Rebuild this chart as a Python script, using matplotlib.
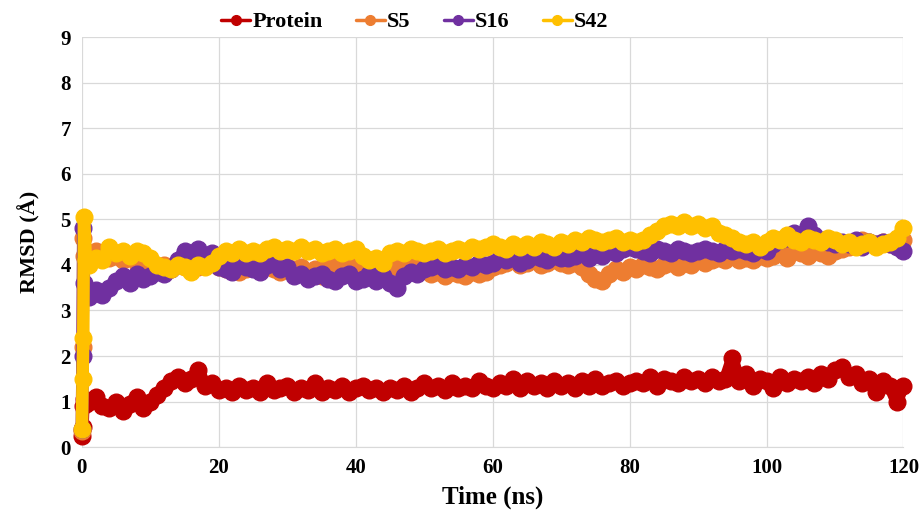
import numpy as np
import matplotlib.pyplot as plt

plt.rcParams['font.family'] = ['Liberation Serif', 'DejaVu Serif']
plt.rcParams['font.weight'] = 'bold'

# time axis: a few early frames, then one sample per ns
time_ns = [0, 0.1, 0.2, 0.3, 0.6] + list(range(1, 121))

protein = [0.25, 0.45, 0.9, 1.05, 0.95,
           1.0, 1.1, 0.9, 0.85, 1.0, 0.8, 0.95, 1.1, 0.85, 1.0,
           1.15, 1.3, 1.45, 1.55, 1.4, 1.5, 1.7, 1.35, 1.4, 1.25,
           1.3, 1.2, 1.35, 1.25, 1.3, 1.2, 1.4, 1.25, 1.3, 1.35,
           1.2, 1.3, 1.25, 1.4, 1.2, 1.3, 1.25, 1.35, 1.2, 1.3,
           1.35, 1.25, 1.3, 1.2, 1.3, 1.25, 1.35, 1.2, 1.3, 1.4,
           1.3, 1.35, 1.25, 1.4, 1.3, 1.35, 1.3, 1.45, 1.35, 1.3,
           1.4, 1.35, 1.5, 1.3, 1.45, 1.35, 1.4, 1.3, 1.45, 1.35,
           1.4, 1.3, 1.45, 1.35, 1.5, 1.35, 1.4, 1.45, 1.35, 1.4,
           1.45, 1.4, 1.55, 1.35, 1.5, 1.45, 1.4, 1.55, 1.45, 1.5,
           1.4, 1.55, 1.45, 1.5, 1.95, 1.45, 1.6, 1.35, 1.5, 1.45,
           1.3, 1.55, 1.4, 1.5, 1.45, 1.55, 1.4, 1.6, 1.5, 1.7,
           1.75, 1.55, 1.6, 1.4, 1.5, 1.2, 1.45, 1.35, 1.0, 1.35]

s5 = [0.35, 2.2, 4.6, 4.2, 4.15,
      4.2, 4.3, 4.25, 4.15, 4.2, 4.1, 4.15, 4.05, 4.1, 4.0,
      3.95, 4.0, 3.9, 4.0, 3.95, 3.9, 3.95, 4.0, 4.05, 3.95,
      3.9, 3.95, 3.85, 3.9, 4.0, 3.9, 3.95, 3.9, 3.85, 3.95,
      3.9, 3.95, 3.8, 3.9, 3.75, 3.95, 4.0, 4.05, 3.95, 4.05,
      3.95, 4.05, 3.95, 3.9, 4.0, 3.95, 4.05, 4.1, 4.0, 3.95,
      3.8, 3.85, 3.75, 3.85, 3.8, 3.75, 3.85, 3.8, 3.85, 3.95,
      4.0, 4.05, 4.1, 4.0, 4.05, 4.1, 4.0, 4.05, 4.1, 4.05,
      4.0, 4.05, 3.95, 3.8, 3.7, 3.65, 3.8, 3.9, 3.85, 3.95,
      3.9, 4.0, 3.95, 3.9, 4.0, 4.05, 3.95, 4.05, 4.0, 4.1,
      4.05, 4.1, 4.15, 4.1, 4.2, 4.1, 4.15, 4.1, 4.2, 4.15,
      4.2, 4.25, 4.15, 4.3, 4.25, 4.2, 4.3, 4.25, 4.2, 4.3,
      4.35, 4.4, 4.5, 4.55, 4.5, 4.45, 4.5, 4.45, 4.5, 4.55]

s16 = [0.4, 2.0, 4.8, 3.6, 3.35,
       3.3, 3.45, 3.35, 3.5, 3.65, 3.75, 3.6, 3.8, 3.7, 3.75,
       3.85, 3.8, 3.9, 4.1, 4.3, 4.2, 4.35, 4.15, 4.25, 3.95,
       3.9, 3.85, 4.0, 3.95, 3.9, 3.85, 4.0, 4.05, 3.9, 3.95,
       3.75, 3.8, 3.7, 3.75, 3.8, 3.7, 3.65, 3.75, 3.8, 3.65,
       3.7, 3.8, 3.65, 3.75, 3.6, 3.5, 3.75, 3.85, 3.8, 3.9,
       3.95, 4.0, 3.9, 3.95, 3.9, 4.0, 3.95, 4.05, 4.0, 4.05,
       4.15, 4.1, 4.15, 4.05, 4.1, 4.2, 4.15, 4.1, 4.2, 4.15,
       4.15, 4.2, 4.25, 4.15, 4.25, 4.2, 4.3, 4.25, 4.35, 4.4,
       4.35, 4.3, 4.25, 4.35, 4.3, 4.25, 4.35, 4.3, 4.25, 4.3,
       4.35, 4.3, 4.25, 4.35, 4.3, 4.35, 4.3, 4.25, 4.35, 4.3,
       4.45, 4.55, 4.6, 4.7, 4.6, 4.85, 4.65, 4.55, 4.5, 4.45,
       4.5, 4.45, 4.55, 4.4, 4.5, 4.45, 4.5, 4.45, 4.4, 4.3]

s42 = [0.4, 1.5, 2.4, 5.05, 4.1,
       4.0, 4.15, 4.1, 4.4, 4.25, 4.3, 4.2, 4.3, 4.25, 4.15,
       4.0, 3.95, 3.9, 4.0, 3.95, 3.85, 4.0, 3.95, 4.05, 4.2,
       4.3, 4.25, 4.35, 4.25, 4.3, 4.25, 4.35, 4.4, 4.3, 4.35,
       4.3, 4.4, 4.3, 4.35, 4.25, 4.3, 4.35, 4.25, 4.3, 4.35,
       4.2, 4.1, 4.15, 4.05, 4.25, 4.3, 4.25, 4.35, 4.3, 4.25,
       4.3, 4.35, 4.25, 4.3, 4.35, 4.3, 4.4, 4.35, 4.4, 4.45,
       4.4, 4.35, 4.45, 4.4, 4.45, 4.4, 4.5, 4.45, 4.4, 4.5,
       4.45, 4.55, 4.5, 4.6, 4.55, 4.5, 4.55, 4.6, 4.5, 4.55,
       4.5, 4.55, 4.65, 4.75, 4.85, 4.9, 4.85, 4.95, 4.85, 4.9,
       4.8, 4.85, 4.7, 4.65, 4.6, 4.5, 4.45, 4.5, 4.4, 4.5,
       4.6, 4.55, 4.65, 4.55, 4.5, 4.6, 4.55, 4.5, 4.6, 4.55,
       4.45, 4.5, 4.4, 4.45, 4.5, 4.4, 4.45, 4.5, 4.6, 4.8]

series = [("Protein", protein, "#C00000"),
          ("S5", s5, "#ED7D31"),
          ("S16", s16, "#7030A0"),
          ("S42", s42, "#FFC000")]

fig, ax = plt.subplots(figsize=(9.2, 5.14), dpi=100)
fig.subplots_adjust(left=0.089, right=0.982, bottom=0.13, top=0.928)

for name, vals, col in series:
    ax.plot(time_ns, vals, 'o-', color=col, lw=9, markersize=12,
            solid_joinstyle='round', solid_capstyle='round',
            label=name, clip_on=False)

ax.set_xlim(0, 120)
ax.set_ylim(0, 9)
ax.set_xticks(np.arange(0, 121, 20))
ax.set_yticks(np.arange(0, 10, 1))
ax.grid(True, color='#D9D9D9', lw=0.9)
ax.set_axisbelow(True)
for side in ['top', 'right', 'left']:
    ax.spines[side].set_visible(False)
ax.spines['bottom'].set_color('#D9D9D9')
ax.tick_params(axis='both', length=0, labelsize=15, pad=8)
for lab in ax.get_xticklabels() + ax.get_yticklabels():
    lab.set_fontweight('bold')

ax.set_xlabel('Time (ns)', fontsize=18, fontweight='bold', labelpad=5)
ax.set_ylabel('RMSD (Å)', fontsize=16, fontweight='bold', labelpad=14)

leg = fig.legend(loc='center', bbox_to_anchor=(0.451, 0.957), ncol=4, frameon=False,
                 handlelength=1.3, handletextpad=0.1, columnspacing=1.5,
                 prop={'weight': 'bold', 'size': 16})
for h in leg.legend_handles:
    h.set_linewidth(2.5)
    h.set_markersize(7)

plt.savefig('out.png', dpi=100)
